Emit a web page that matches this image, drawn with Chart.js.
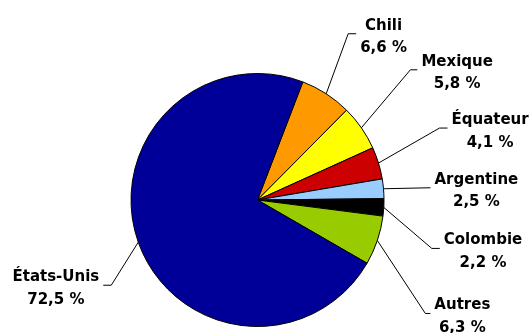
<!DOCTYPE html>
<html lang="fr">
<head>
<meta charset="utf-8">
<title>Répartition</title>
<script src="https://cdn.jsdelivr.net/npm/chart.js@4.4.1/dist/chart.umd.min.js"></script>
<style>
  html, body { margin: 0; padding: 0; background: #fff; }
  #wrap { width: 532px; height: 333px; }
</style>
</head>
<body>
<div id="wrap"><canvas id="pie" width="532" height="333"></canvas></div>
<script>
// slices, clockwise from the top-right
const countries = ['Chili', 'Mexique', 'Équateur', 'Argentine', 'Colombie', 'Autres', 'États-Unis'];
const shares = [6.6, 5.8, 4.1, 2.5, 2.2, 6.3, 72.5];
const shareLabels = ['6,6 %', '5,8 %', '4,1 %', '2,5 %', '2,2 %', '6,3 %', '72,5 %'];
const sliceColors = ['#FF9900', '#FFFF00', '#CC0000', '#99CCFF', '#000000', '#99CC00', '#000099'];

// leader line layout: elbow offset from slice edge, then short horizontal tick
const leaders = [
  { dx: 22, dy: -60, tick: 8 },
  { dx: 49, dy: -58, tick: 7 },
  { dx: 61, dy: -35, tick: 8 },
  { dx: 47, dy: -1, tick: 0 },
  { dx: 48, dy: 41, tick: 8 },
  { dx: 48, dy: 73, tick: 5 },
  { dx: -27, dy: 43, tick: -8 }
];

const labelFont = 'bold 15px "DejaVu Sans", Verdana, sans-serif';

const leaderLabels = {
  id: 'leaderLabels',
  afterDraw(chart) {
    const ctx = chart.ctx;
    const meta = chart.getDatasetMeta(0);
    ctx.save();
    ctx.font = labelFont;
    ctx.fillStyle = '#000';
    ctx.strokeStyle = '#000';
    ctx.lineWidth = 1;
    ctx.textAlign = 'center';
    ctx.textBaseline = 'alphabetic';
    meta.data.forEach((arc, i) => {
      const p = arc.getProps(['x', 'y', 'startAngle', 'endAngle', 'outerRadius'], true);
      const mid = (p.startAngle + p.endAngle) / 2;
      const ex = p.x + Math.cos(mid) * p.outerRadius;
      const ey = p.y + Math.sin(mid) * p.outerRadius;
      const l = leaders[i];
      const bx = ex + l.dx, by = ey + l.dy;
      const tx = bx + l.tick;
      ctx.beginPath();
      ctx.moveTo(ex, ey);
      ctx.lineTo(bx, by);
      ctx.lineTo(tx, by);
      ctx.stroke();

      const w = Math.max(ctx.measureText(countries[i]).width, ctx.measureText(shareLabels[i]).width);
      const dir = l.tick < 0 || l.dx < 0 ? -1 : 1;
      const cx = tx + dir * (4 + w / 2);
      ctx.fillText(countries[i], cx, by - 4);
      ctx.fillText(shareLabels[i], cx, by + 18.5);
    });
    ctx.restore();
  }
};

new Chart(document.getElementById('pie'), {
  type: 'pie',
  data: {
    labels: countries,
    datasets: [{
      data: shares,
      backgroundColor: sliceColors,
      borderColor: '#000',
      borderWidth: 1
    }]
  },
  options: {
    responsive: false,
    devicePixelRatio: 1,
    animation: false,
    rotation: 21,
    layout: { padding: { top: 73, bottom: 6, left: 130, right: 147 } },
    plugins: {
      legend: { display: false },
      tooltip: { enabled: false }
    }
  },
  plugins: [leaderLabels]
});
</script>
</body>
</html>
